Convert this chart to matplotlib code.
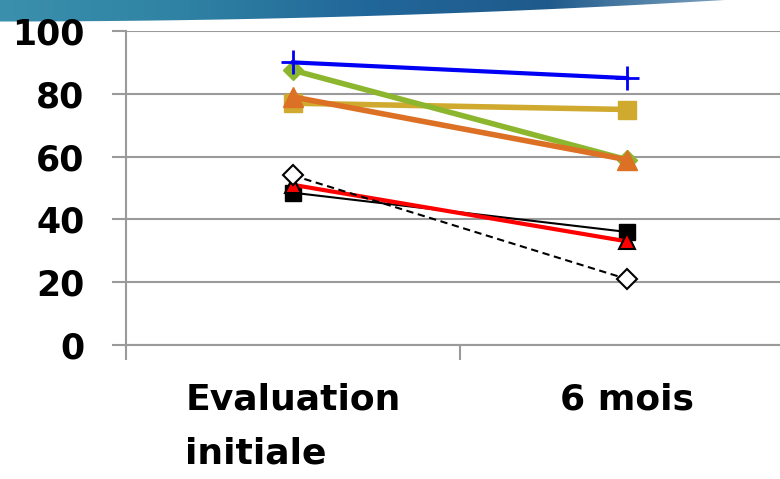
import numpy as np
import matplotlib
matplotlib.use("Agg")
import matplotlib.pyplot as plt
from matplotlib.colors import LinearSegmentedColormap
from matplotlib.patches import Polygon

# data
categories = ["Evaluation\ninitiale", "6 mois"]
blue_cross = [90, 85]
green_diamond = [87.5, 59]
gold_square = [77, 75]
orange_triangle = [79, 59]
black_square = [48.5, 36]
red_triangle = [51, 33]
white_diamond = [54, 21]
y_ticks = [0, 20, 40, 60, 80, 100]

fig = plt.figure(figsize=(7.8, 4.79), dpi=100)

# decorative slide banner at the top
banner = fig.add_axes([0, 1 - 25 / 479, 1, 25 / 479], zorder=0)
banner.set_xlim(0, 780)
banner.set_ylim(25, 0)
banner.axis("off")
cmap = LinearSegmentedColormap.from_list(
    "banner", ["#3b90ad", "#2f82a3", "#22679a", "#1f5a8c", "#7fa3c0"])
grad = np.linspace(0, 1, 256).reshape(1, -1)
img = banner.imshow(grad, cmap=cmap, extent=[0, 730, 25, 0], aspect="auto")
xs = np.linspace(0, 725, 60)
ys = 21.5 * (1 - (xs / 725) ** 2)
poly = Polygon(np.column_stack([np.r_[xs, 0], np.r_[ys, 0]]), closed=True,
               transform=banner.transData, facecolor="none", edgecolor="none")
banner.add_patch(poly)
img.set_clip_path(poly)

ax = fig.add_axes([126 / 780, 1 - 345 / 479, 668 / 780, 314 / 479], zorder=2)
ax.patch.set_alpha(0)
x = np.arange(len(categories))

ax.plot(x, gold_square, color="#cfaa2e", lw=4, marker="s", ms=13.5, zorder=3)
ax.plot(x, green_diamond, color="#8db62f", lw=4, marker="D", ms=10, zorder=4)
ax.plot(x, orange_triangle, color="#dc7024", lw=4, marker="^", ms=14, zorder=5)
ax.plot(x, blue_cross, color="#0000f5", lw=3, marker="+", ms=17, mew=2, zorder=6)
ax.plot(x, black_square, color="black", lw=1.5, marker="s", ms=11, zorder=3)
ax.plot(x, red_triangle, color="#ff0000", lw=3, marker="^", ms=12,
        mec="black", mew=1.5, zorder=4)
ax.plot(x, white_diamond, color="black", lw=1.5, ls=(0, (3.5, 2.2)), marker="D",
        ms=10, mfc="white", mec="black", mew=1.5, zorder=5)

ax.set_xlim(-0.5, 1.5)
ax.set_ylim(0, 100)
ax.set_yticks(y_ticks)
ax.set_yticklabels([str(v) for v in y_ticks], fontsize=25, fontweight="bold")
ax.yaxis.grid(True, color="#9a9a9a", lw=1.5)
ax.set_axisbelow(True)
ax.tick_params(axis="y", length=10, width=1.5, color="#9a9a9a", pad=20)

ax.set_xticks(x)
ax.set_xticklabels(categories, fontsize=26, fontweight="bold",
                   linespacing=1.75, multialignment="left", va="top")
ax.set_xticks([-0.5, 0.5, 1.5], minor=True)
ax.tick_params(axis="x", which="major", length=0, pad=27)
ax.tick_params(axis="x", which="minor", length=11, width=1.5, color="#9a9a9a")

for side in ["top", "right"]:
    ax.spines[side].set_visible(False)
for side in ["left", "bottom"]:
    ax.spines[side].set_color("#9a9a9a")
    ax.spines[side].set_linewidth(1.5)

fig.savefig("out.png", dpi=100, facecolor="white")
